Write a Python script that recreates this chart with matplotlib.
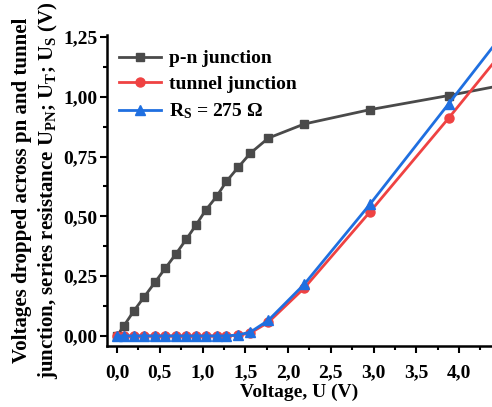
import matplotlib
matplotlib.use('Agg')
from matplotlib import pyplot as plt
from matplotlib.ticker import MultipleLocator, FuncFormatter

# measured voltages (V)
u_applied = [0.0, 0.08, 0.2, 0.32, 0.45, 0.565, 0.69, 0.81, 0.925, 1.04,
             1.165, 1.28, 1.42, 1.56, 1.77, 2.19, 2.96, 3.88, 4.9]
u_pn = [0.0, 0.042, 0.106, 0.164, 0.227, 0.283, 0.343, 0.404, 0.464, 0.527,
        0.583, 0.646, 0.706, 0.764, 0.827, 0.886, 0.946, 1.005, 1.075]
u_tunnel = [0.0, 0.0, 0.0, 0.0, 0.0, 0.0, 0.0, 0.0, 0.0, 0.0,
            0.0, 0.0, 0.003, 0.012, 0.057, 0.2, 0.519, 0.911, 1.36]
u_rs = [0.0, 0.0, 0.0, 0.0, 0.0, 0.0, 0.0, 0.0, 0.0, 0.0,
        0.0, 0.0, 0.004, 0.016, 0.065, 0.216, 0.551, 0.971, 1.44]

plt.rcParams['font.family'] = 'Liberation Serif'
plt.rcParams['font.weight'] = 'bold'
plt.rcParams['mathtext.fontset'] = 'custom'
plt.rcParams['mathtext.rm'] = 'Liberation Serif:bold'
plt.rcParams['mathtext.it'] = 'Liberation Serif:bold'
plt.rcParams['mathtext.default'] = 'rm'

fig = plt.figure(figsize=(4.92, 4.07), dpi=100)
ax = fig.add_axes([0.2175, 0.15, 0.7825, 0.764])

ax.plot(u_applied, u_pn, color='#4a4a4a', lw=2, marker='s', ms=6,
        label='p-n junction')
ax.plot(u_applied, u_tunnel, color='#ef4242', lw=2, marker='o', ms=6.5,
        label='tunnel junction')
ax.plot(u_applied, u_rs, color='#1f6fe0', lw=2, marker='^', ms=7,
        label=r'R$_S$ = 275 Ω')

ax.set_xlim(-0.117, 4.386)
ax.set_ylim(-0.042, 1.258)
ax.xaxis.set_major_locator(MultipleLocator(0.5))
ax.xaxis.set_minor_locator(MultipleLocator(0.25))
ax.yaxis.set_major_locator(MultipleLocator(0.25))
ax.yaxis.set_minor_locator(MultipleLocator(0.125))
ax.xaxis.set_major_formatter(FuncFormatter(lambda v, p: f'{v:.1f}'.replace('.', ',')))
ax.yaxis.set_major_formatter(FuncFormatter(lambda v, p: f'{v:.2f}'.replace('.', ',')))

for side in ['top', 'right']:
    ax.spines[side].set_visible(False)
for side in ['left', 'bottom']:
    ax.spines[side].set_linewidth(1.8)
ax.tick_params(which='major', direction='out', length=5, width=1.5, labelsize=14)
ax.tick_params(which='minor', direction='out', length=3, width=1.5)
ax.tick_params(axis='x', which='major', pad=8)
ax.tick_params(axis='y', which='major', pad=2)

ax.set_xlabel('Voltage, U (V)', fontsize=14, fontweight='bold', labelpad=2)
ax.set_ylabel('Voltages dropped across pn and tunnel\n'
              r'junction, series resistance U$_{PN}$; U$_T$; U$_S$ (V)',
              fontsize=15, fontweight='bold', labelpad=2, linespacing=1.25)

ax.legend(loc='upper left', frameon=False, fontsize=14, handlelength=2.2,
          handletextpad=0.4, labelspacing=0.42, borderaxespad=0.2,
          bbox_to_anchor=(0.0, 0.99))

plt.savefig('out.png', dpi=100, facecolor='white')
